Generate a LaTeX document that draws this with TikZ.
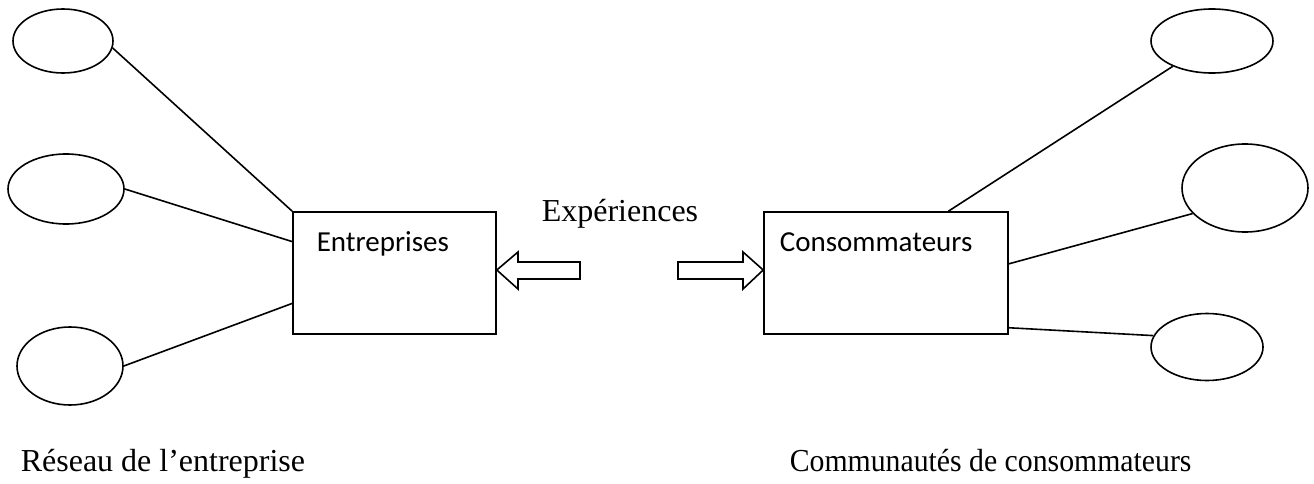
\documentclass[tikz,border=0pt]{standalone}
\usepackage{fontspec}
\setmainfont{Liberation Serif}
\newfontfamily\boxfont{Carlito}
\usetikzlibrary{shapes.geometric,calc}
\begin{document}
\begin{tikzpicture}[x=1pt,y=-1pt,
  line width=1.6pt,
  oval/.style={draw,ellipse,inner sep=0pt},
  actor/.style={draw,rectangle,inner sep=0pt},
  link/.style={draw},
  boxlabel/.style={anchor=base west,inner sep=0pt,font=\boxfont\fontsize{29}{34}\selectfont},
  serif/.style={anchor=base west,inner sep=0pt,font=\fontsize{32}{38}\selectfont},
  bigarrow/.style={draw,line join=miter,fill=white}]
\useasboundingbox (0,0) rectangle (1314,484);
% boxes
\node[actor,minimum width=203pt,minimum height=122pt] (E) at (394.5,273) {};
\node[actor,minimum width=244pt,minimum height=122pt] (C) at (886,273) {};
\node[boxlabel] (Et) at (316,251) {Entreprises};
\node[boxlabel] (Ct) at (779,251) {Consommateurs};
% ellipses left
\node[oval,minimum width=100pt,minimum height=64pt] (L1) at (63,41) {};
\node[oval,minimum width=116pt,minimum height=70pt] (L2) at (66,189) {};
\node[oval,minimum width=106pt,minimum height=78pt] (L3) at (70,366) {};
% ellipses right
\node[oval,minimum width=122pt,minimum height=64pt] (R1) at (1212,41) {};
\node[oval,minimum width=126pt,minimum height=88pt] (R2) at (1245,188) {};
\node[oval,minimum width=112pt,minimum height=67pt] (R3) at (1207,347) {};
% connectors
\draw[link] (L1.-8) -- (E.north west);
\draw[link] (L2.east) -- ($(E.north west)!0.246!(E.south west)$);
\draw[link] (L3.east) -- ($(E.north west)!0.746!(E.south west)$);
\draw[link] ($(C.north west)!0.754!(C.north east)$) -- (R1);
\draw[link] ($(C.north east)!0.426!(C.south east)$) -- (R2.206);
\draw[link] ($(C.north east)!0.943!(C.south east)$) -- (R3.168);
% block arrows
\draw[bigarrow] (E.east |- 0,270) -- (518,252) -- (518,262) -- (580,262) -- (580,279) -- (518,279) -- (518,289) -- cycle;
\draw[bigarrow] (C.west |- 0,270) -- (743,252) -- (743,262) -- (678,262) -- (678,279) -- (743,279) -- (743,289) -- cycle;
% texts
\node[serif] (X) at (541,221) {Expériences};
\node[serif] (RL) at (20,471) {Réseau de l’entreprise};
\node[serif] (RC) at (789,471) {\scalebox{0.93}[1]{Communautés de consommateurs}};
\end{tikzpicture}
\end{document}
